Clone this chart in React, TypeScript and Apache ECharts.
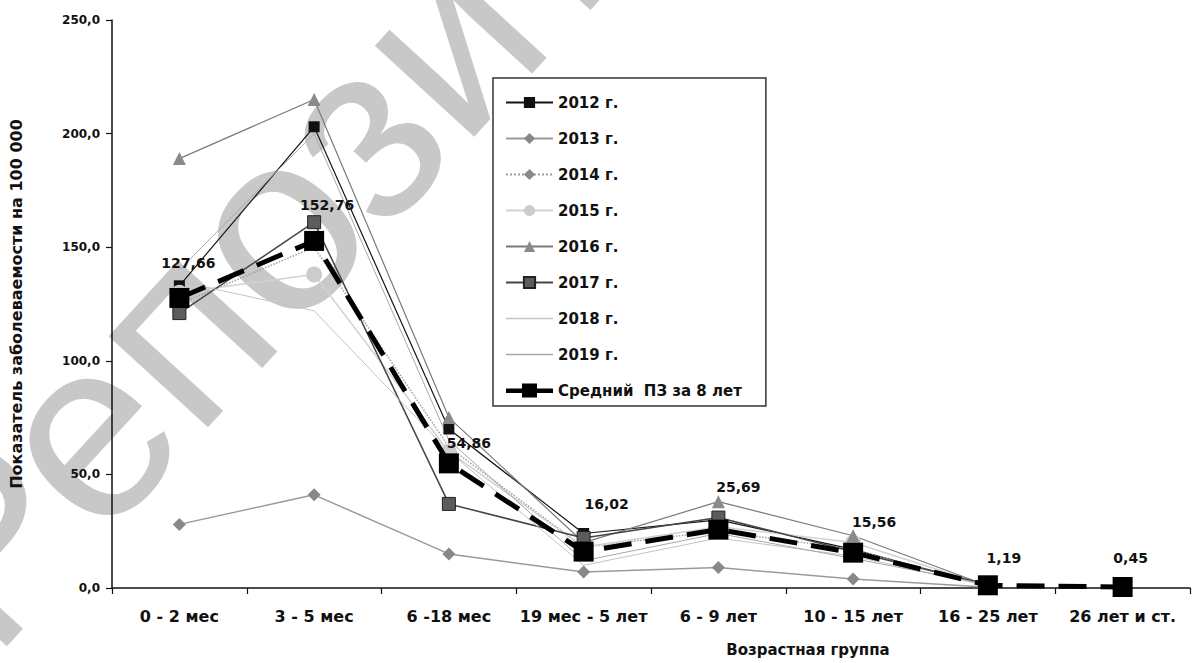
import React, { useEffect, useRef } from 'react';
import * as echarts from 'echarts';

const categories = ['0 - 2 мес', '3 - 5 мес', '6 -18 мес', '19 мес - 5 лет', '6 - 9 лет', '10 - 15 лет', '16 - 25 лет', '26 лет и ст.'];
const y2012 = [133, 203, 70, 24, 30, 17, 1.0, null];
const y2013 = [28, 41, 15, 7, 9, 4, 0.3, null];
const y2014 = [125, 150, 62, 18, 25, 17, 1.0, null];
const y2015 = [130, 138, 60, 18, 27, 20, 1.0, null];
const y2016 = [189, 215, 75, 20, 38, 23, 1.0, null];
const y2017 = [121, 161, 37, 22, 31, 16, 1.5, null];
const y2018 = [135, 122, 60, 10, 22, 14, 1.0, null];
const y2019 = [140, 200, 65, 12, 24, 13, 1.5, null];
const avgValues = [127.66, 152.76, 54.86, 16.02, 25.69, 15.56, 1.19, 0.45];
const avgName = 'Средний  ПЗ за 8 лет';
const yMin = 0;
const yMax = 250;
const yStep = 50;

// manual data-label nudges (styling only)
const avgLabelOffsets = [[9, -35], [13, -36], [20, -20], [23, -48], [20, -43], [21, -31], [16, -27], [8, -29]];

const FONT = 'DejaVu Sans';
const THIN_LINE_ICON = 'path://M0,0h47v1.4h-47z';
const AVG_ICON = 'path://M0,5h47v4.5h-47z M16,0h15v14h-15z';

export default function App() {
  const ref = useRef<HTMLDivElement>(null);
  useEffect(() => {
    const chart = echarts.init(ref.current!, null, { renderer: 'svg' });
    const thin = (name: string, data: any[], color: string, width: number, symbol: string, size: number, markerColor: string, extra: any = {}) => ({
      name,
      type: 'line',
      data,
      symbol,
      symbolSize: size,
      lineStyle: { color, width, ...(extra.lineStyle || {}) },
      itemStyle: { color: markerColor, ...(extra.itemStyle || {}) },
      z: 2,
    });
    chart.setOption({
      animation: false,
      backgroundColor: '#ffffff',
      grid: { left: 108, right: 5, top: 20, bottom: 75 },
      legend: {
        orient: 'vertical',
        left: 493,
        top: 78,
        itemWidth: 47,
        itemHeight: 14,
        itemGap: 21,
        padding: [17, 24, 8, 12],
        borderColor: '#333',
        borderWidth: 1.5,
        backgroundColor: '#fff',
        textStyle: { fontFamily: FONT, fontWeight: 'bold', fontSize: 15, color: '#111' },
        data: [
          '2012 г.', '2013 г.', '2014 г.', '2015 г.', '2016 г.', '2017 г.',
          { name: '2018 г.', icon: THIN_LINE_ICON },
          { name: '2019 г.', icon: THIN_LINE_ICON },
          { name: avgName, icon: AVG_ICON },
        ],
      },
      xAxis: {
        type: 'category',
        data: categories,
        axisLine: { show: true, lineStyle: { color: '#111', width: 1.5 } },
        axisTick: { show: true, length: 6, lineStyle: { color: '#111', width: 1.2 } },
        axisLabel: { interval: 0, margin: 20, fontFamily: FONT, fontWeight: 'bold', fontSize: 16, color: '#111' },
        splitLine: { show: false },
      },
      yAxis: {
        type: 'value',
        min: yMin,
        max: yMax,
        interval: yStep,
        name: 'Показатель заболеваемости на 100 000',
        nameLocation: 'middle',
        nameGap: 88,
        nameTextStyle: { fontFamily: FONT, fontWeight: 'bold', fontSize: 16, color: '#111' },
        axisLine: { show: true, lineStyle: { color: '#111', width: 1.5 } },
        axisTick: { show: true, length: 6, lineStyle: { color: '#111', width: 1.2 } },
        axisLabel: {
          margin: 12,
          fontFamily: FONT,
          fontWeight: 'bold',
          fontSize: 12,
          color: '#111',
          formatter: (v: number) => v.toFixed(1).replace('.', ','),
        },
        splitLine: { show: false },
      },
      graphic: [
        {
          type: 'text',
          x: 441,
          y: 42,
          rotation: 0.829,
          z: 0,
          silent: true,
          style: {
            text: 'Репозиторий',
            font: '255px "Liberation Sans"',
            fill: '#c8c8c8',
            align: 'center',
            verticalAlign: 'middle',
            textAlign: 'center',
            textVerticalAlign: 'middle',
          },
        },
        {
          type: 'text',
          x: 808,
          y: 650,
          z: 10,
          style: {
            text: 'Возрастная группа',
            font: 'bold 15px "DejaVu Sans"',
            fill: '#111',
            align: 'center',
            verticalAlign: 'middle',
            textAlign: 'center',
            textVerticalAlign: 'middle',
          },
        },
      ],
      series: [
        thin('2012 г.', y2012, '#151515', 1.2, 'rect', 11, '#111'),
        thin('2013 г.', y2013, '#9a9a9a', 1.5, 'diamond', 13, '#888'),
        thin('2014 г.', y2014, '#a0a0a0', 1.5, 'diamond', 8, '#888', { lineStyle: { type: 'dotted' } }),
        thin('2015 г.', y2015, '#d2d2d2', 1.5, 'circle', 16, '#cccccc'),
        thin('2016 г.', y2016, '#7a7a7a', 1.2, 'triangle', 13, '#8a8a8a'),
        thin('2017 г.', y2017, '#444', 1.5, 'rect', 13, '#5c5c5c', { itemStyle: { borderColor: '#222', borderWidth: 1 } }),
        thin('2018 г.', y2018, '#c4c4c4', 1, 'none', 2, '#c4c4c4'),
        thin('2019 г.', y2019, '#a8a8a8', 1, 'none', 2, '#a8a8a8'),
        {
          name: avgName,
          type: 'line',
          z: 4,
          symbol: 'rect',
          symbolSize: 20,
          lineStyle: { color: '#000', width: 5, type: [28, 14] },
          itemStyle: { color: '#000' },
          label: {
            show: true,
            position: 'inside',
            fontFamily: FONT,
            fontWeight: 'bold',
            fontSize: 14,
            color: '#111',
            formatter: (p: any) => Number(p.value).toFixed(2).replace('.', ','),
          },
          data: avgValues.map((v, i) => ({ value: v, label: { offset: avgLabelOffsets[i] } })),
        },
      ],
    });
    return () => chart.dispose();
  }, []);
  return <div ref={ref} style={{ position: 'fixed', left: 0, top: 0, width: 1195, height: 663 }} />;
}
